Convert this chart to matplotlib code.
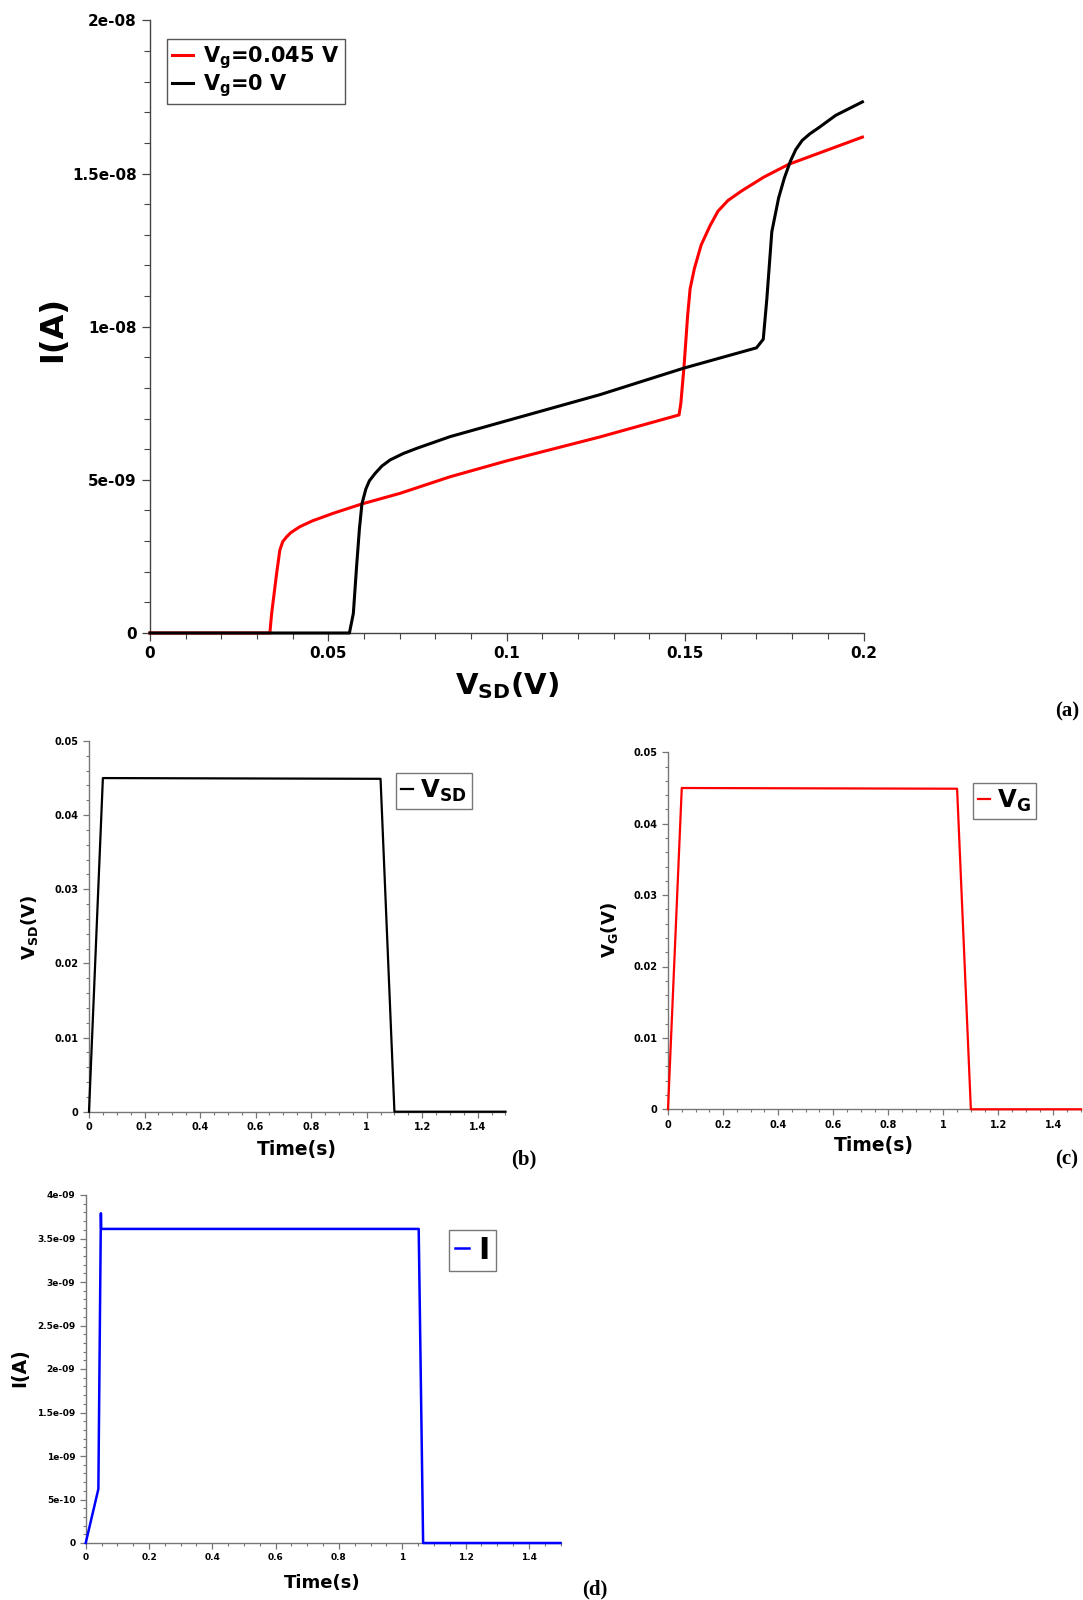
import matplotlib
matplotlib.use("Agg")
import matplotlib.pyplot as plt
from matplotlib.ticker import MultipleLocator

plt.rcParams['font.family'] = ['DejaVu Sans']
plt.rcParams['font.weight'] = 'bold'
plt.rcParams['mathtext.fontset'] = 'dejavusans'

# ---------------- data: panel (a) I-V curves ----------------
vsd_red = [0, 0.0336, 0.0341, 0.0355, 0.0364, 0.0372, 0.0383, 0.0395, 0.042, 0.0455,
           0.0514, 0.0593, 0.0701, 0.0841, 0.100, 0.1261, 0.1483, 0.1488, 0.1497, 0.1507,
           0.1514, 0.1526, 0.1545, 0.157, 0.1592, 0.162, 0.1658, 0.172, 0.179, 0.1997]
i_red = [0, 0, 0.64e-9, 1.95e-9, 2.71e-9, 2.98e-9, 3.14e-9, 3.28e-9, 3.47e-9, 3.66e-9,
         3.91e-9, 4.21e-9, 4.56e-9, 5.10e-9, 5.62e-9, 6.40e-9, 7.12e-9, 7.5e-9, 8.71e-9, 10.36e-9,
         11.24e-9, 11.9e-9, 12.67e-9, 13.3e-9, 13.77e-9, 14.12e-9, 14.43e-9, 14.88e-9, 15.3e-9, 16.19e-9]

vsd_black = [0, 0.0559, 0.057, 0.0579, 0.0587, 0.0594, 0.0605, 0.0615, 0.0631, 0.065,
             0.0673, 0.071, 0.0748, 0.0841, 0.100, 0.1261, 0.1497, 0.170, 0.1719, 0.1729,
             0.1743, 0.1762, 0.1778, 0.1795, 0.181, 0.1828, 0.185, 0.1875, 0.1922, 0.1997]
i_black = [0, 0, 0.64e-9, 2.16e-9, 3.4e-9, 4.21e-9, 4.7e-9, 4.97e-9, 5.21e-9, 5.45e-9,
           5.65e-9, 5.86e-9, 6.03e-9, 6.41e-9, 6.93e-9, 7.78e-9, 8.65e-9, 9.31e-9, 9.59e-9, 10.9e-9,
           13.1e-9, 14.2e-9, 14.85e-9, 15.4e-9, 15.78e-9, 16.08e-9, 16.3e-9, 16.5e-9, 16.9e-9, 17.34e-9]

a_xticks = [0, 0.05, 0.1, 0.15, 0.2]
a_xticklabels = ['0', '0.05', '0.1', '0.15', '0.2']
a_yticks = [0, 5e-9, 1e-8, 1.5e-8, 2e-8]
a_yticklabels = ['0', '5e-09', '1e-08', '1.5e-08', '2e-08']

# ---------------- data: panels (b), (c) voltage pulses ----------------
t_vsd = [0, 0.05, 1.05, 1.10, 1.5]
v_sd = [0, 0.045, 0.0449, 0, 0]
t_vg = [0, 0.05, 1.05, 1.10, 1.5]
v_g = [0, 0.045, 0.0449, 0, 0]

v_yticks = [0, 0.01, 0.02, 0.03, 0.04, 0.05]
v_yticklabels = ['0', '0.01', '0.02', '0.03', '0.04', '0.05']
t_xticks = [0, 0.2, 0.4, 0.6, 0.8, 1.0, 1.2, 1.4]
t_xticklabels = ['0', '0.2', '0.4', '0.6', '0.8', '1', '1.2', '1.4']

# ---------------- data: panel (d) current ----------------
t_i = [0, 0.04, 0.048, 0.049, 1.052, 1.066, 1.5]
i_t = [0, 6.2e-10, 3.79e-9, 3.61e-9, 3.61e-9, 0, 0]
d_yticks = [0, 5e-10, 1e-9, 1.5e-9, 2e-9, 2.5e-9, 3e-9, 3.5e-9, 4e-9]
d_yticklabels = ['0', '5e-10', '1e-09', '1.5e-09', '2e-09', '2.5e-09', '3e-09', '3.5e-09', '4e-09']

W, H = 1083, 1600
fig = plt.figure(figsize=(W / 100, H / 100), dpi=100)


def rect(left, top, right, bottom):
    return [left / W, 1 - bottom / H, (right - left) / W, (bottom - top) / H]


def style(ax, spine_col, tick_fs, maj_len, min_len):
    for s in ['top', 'right']:
        ax.spines[s].set_visible(False)
    for s in ['left', 'bottom']:
        ax.spines[s].set_color(spine_col)
        ax.spines[s].set_linewidth(1.0)
    ax.tick_params(which='both', direction='out', colors=spine_col, labelcolor='black',
                   labelsize=tick_fs)
    ax.tick_params(which='major', length=maj_len, width=0.9)
    ax.tick_params(which='minor', length=min_len, width=0.8)
    for lab in ax.get_xticklabels() + ax.get_yticklabels():
        lab.set_fontweight('bold')


# ---------------- (a) ----------------
axa = fig.add_axes(rect(150, 20.4, 863.5, 633))
axa.plot(vsd_red, i_red, color='#ff0000', lw=2.2, clip_on=False, zorder=3,
         solid_joinstyle='round', label=r'$\mathbf{V_g}$=0.045 V')
axa.plot(vsd_black, i_black, color='black', lw=2.2, clip_on=False, zorder=3,
         solid_joinstyle='round', label=r'$\mathbf{V_g}$=0 V')
axa.set_xlim(0, 0.2)
axa.set_ylim(0, 2e-8)
axa.set_xticks(a_xticks, a_xticklabels)
axa.set_yticks(a_yticks, a_yticklabels)
axa.xaxis.set_minor_locator(MultipleLocator(0.01))
axa.yaxis.set_minor_locator(MultipleLocator(1e-9))
style(axa, '#444444', 11, 6, 4)
leg = axa.legend(loc='upper left', bbox_to_anchor=(167 / W, 1 - 39 / H),
                 bbox_transform=fig.transFigure, prop={'size': 15, 'weight': 'bold'},
                 handlelength=1.0, handletextpad=0.5, borderpad=0.25, labelspacing=0.05,
                 fancybox=False, framealpha=1, edgecolor='#555555', borderaxespad=0)
leg.get_frame().set_linewidth(1.0)
fig.text(53 / W, 1 - 329 / H, 'I(A)', rotation=90, ha='center', va='center',
         fontsize=23, fontweight='bold')
fig.text(507 / W, 1 - 686 / H, r'$\mathbf{V_{SD}}$(V)', ha='center', va='center',
         fontsize=21, fontweight='bold')
fig.text(1067 / W, 1 - 711 / H, '(a)', ha='center', va='center', fontsize=15,
         fontweight='bold', family='Liberation Serif')

# ---------------- (b) ----------------
axb = fig.add_axes(rect(89, 741, 505.5, 1111.7))
axb.plot(t_vsd, v_sd, color='black', lw=1.6, clip_on=False, zorder=3, label=r'$\mathbf{V_{SD}}$')
axb.set_xlim(0, 1.5)
axb.set_ylim(0, 0.05)
axb.set_xticks(t_xticks, t_xticklabels)
axb.set_yticks(v_yticks, v_yticklabels)
axb.xaxis.set_minor_locator(MultipleLocator(0.05))
axb.yaxis.set_minor_locator(MultipleLocator(0.002))
style(axb, '#777777', 7, 4, 2.5)
leg = axb.legend(loc='upper left', bbox_to_anchor=(396 / W, 1 - 773 / H),
                 bbox_transform=fig.transFigure, prop={'size': 17.5, 'weight': 'bold'},
                 handlelength=0.5, handletextpad=0.3, borderpad=0.2,
                 fancybox=False, framealpha=1, edgecolor='#777777', borderaxespad=0)
fig.text(30 / W, 1 - 927 / H, r'$\mathbf{V_{SD}}$(V)', rotation=90, ha='center', va='center',
         fontsize=13, fontweight='bold')
fig.text(297 / W, 1 - 1149 / H, 'Time(s)', ha='center', va='center', fontsize=13.5,
         fontweight='bold')
fig.text(524 / W, 1 - 1159 / H, '(b)', ha='center', va='center', fontsize=15,
         fontweight='bold', family='Liberation Serif')

# ---------------- (c) ----------------
axc = fig.add_axes(rect(668, 752.3, 1081, 1109.3))
axc.plot(t_vg, v_g, color='#ff0000', lw=1.6, clip_on=False, zorder=3, label=r'$\mathbf{V_G}$')
axc.set_xlim(0, 1.5)
axc.set_ylim(0, 0.05)
axc.set_xticks(t_xticks, t_xticklabels)
axc.set_yticks(v_yticks, v_yticklabels)
axc.xaxis.set_minor_locator(MultipleLocator(0.05))
axc.yaxis.set_minor_locator(MultipleLocator(0.002))
style(axc, '#777777', 7, 4, 2.5)
leg = axc.legend(loc='upper left', bbox_to_anchor=(973 / W, 1 - 783 / H),
                 bbox_transform=fig.transFigure, prop={'size': 17.5, 'weight': 'bold'},
                 handlelength=0.5, handletextpad=0.3, borderpad=0.2,
                 fancybox=False, framealpha=1, edgecolor='#777777', borderaxespad=0)
fig.text(610 / W, 1 - 930 / H, r'$\mathbf{V_G}$(V)', rotation=90, ha='center', va='center',
         fontsize=13, fontweight='bold')
fig.text(874 / W, 1 - 1145 / H, 'Time(s)', ha='center', va='center', fontsize=13.5,
         fontweight='bold')
fig.text(1067 / W, 1 - 1159 / H, '(c)', ha='center', va='center', fontsize=15,
         fontweight='bold', family='Liberation Serif')

# ---------------- (d) ----------------
axd = fig.add_axes(rect(85.7, 1195, 560.5, 1543))
axd.plot(t_i, i_t, color='#0000ff', lw=1.8, clip_on=False, zorder=3, label='I')
axd.set_xlim(0, 1.5)
axd.set_ylim(0, 4e-9)
axd.set_xticks(t_xticks, t_xticklabels)
axd.set_yticks(d_yticks, d_yticklabels)
axd.xaxis.set_minor_locator(MultipleLocator(0.05))
axd.yaxis.set_minor_locator(MultipleLocator(1e-10))
style(axd, '#777777', 6.5, 4, 2.5)
leg = axd.legend(loc='upper left', bbox_to_anchor=(449 / W, 1 - 1230 / H),
                 bbox_transform=fig.transFigure, prop={'size': 22, 'weight': 'bold'},
                 handlelength=0.45, handletextpad=0.3, borderpad=0.2,
                 fancybox=False, framealpha=1, edgecolor='#777777', borderaxespad=0)
fig.text(20 / W, 1 - 1368 / H, 'I(A)', rotation=90, ha='center', va='center',
         fontsize=13.5, fontweight='bold')
fig.text(322 / W, 1 - 1583 / H, 'Time(s)', ha='center', va='center', fontsize=13,
         fontweight='bold')
fig.text(595 / W, 1 - 1589 / H, '(d)', ha='center', va='center', fontsize=15,
         fontweight='bold', family='Liberation Serif')

fig.savefig('out.png', dpi=100, facecolor='white')
